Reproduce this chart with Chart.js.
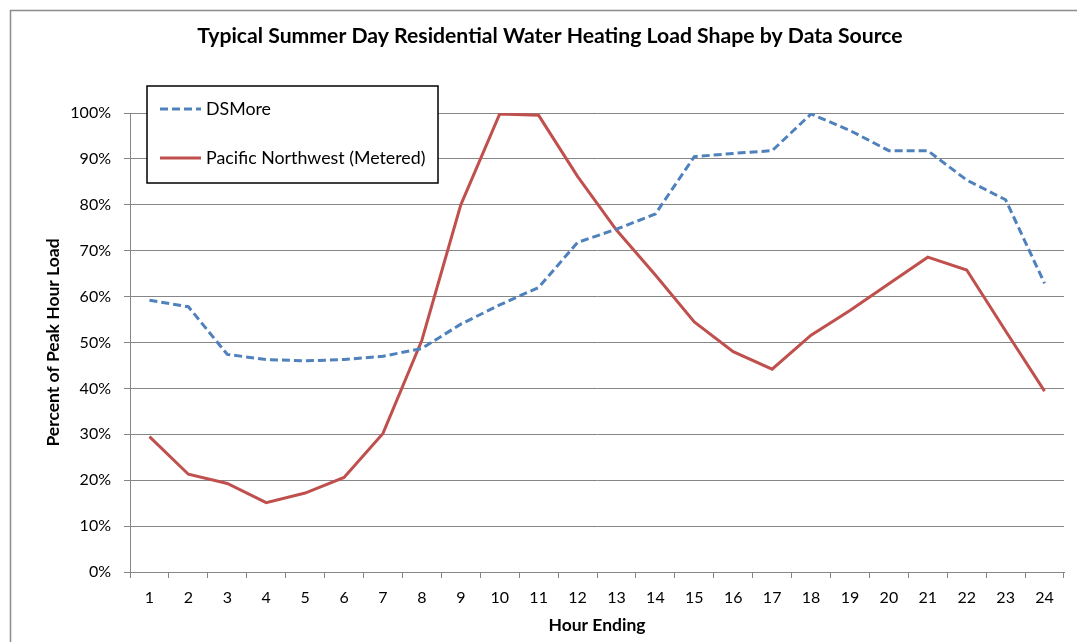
<!DOCTYPE html>
<html lang="en">
<head>
    <meta charset="UTF-8">
    <title>Water Heating Load Shape</title>
    <script src="https://cdn.jsdelivr.net/npm/chart.js"></script>
    <style>
        body { margin: 0; background: #fff; }
    </style>
</head>
<body>
    <canvas id="grafico_carga" width="1077" height="642"></canvas>

<script>
    // hour ending 1..24
    const horas = ['1', '2', '3', '4', '5', '6', '7', '8', '9', '10', '11', '12',
                   '13', '14', '15', '16', '17', '18', '19', '20', '21', '22', '23', '24'];

    // percent of peak hour load
    const dsmore = [59.2, 57.8, 47.4, 46.3, 46.0, 46.3, 47.0, 48.7, 54.0, 58.2, 62.0, 71.8,
                    74.7, 78.0, 90.5, 91.2, 91.8, 99.8, 96.2, 91.8, 91.8, 85.4, 81.1, 62.9];
    const pacificNW = [29.5, 21.3, 19.3, 15.1, 17.2, 20.6, 30.2, 50.5, 80.0, 99.8, 99.5, 86.2,
                       74.5, 64.7, 54.5, 48.0, 44.2, 51.6, 57.0, 62.8, 68.6, 65.8, 52.5, 39.4];

    const eixoY = [0, 10, 20, 30, 40, 50, 60, 70, 80, 90, 100];

    const FONTE = 'Lato, "Open Sans", sans-serif';
    const CINZA = '#868686';

    // outer frame of the chart
    const moldura = {
        id: 'moldura',
        beforeDraw(chart) {
            const ctx = chart.ctx;
            ctx.save();
            ctx.strokeStyle = '#8c8c8c';
            ctx.lineWidth = 1.5;
            ctx.strokeRect(10.5, 10.5, 1200, 800);
            ctx.restore();
        }
    };

    // legend box drawn inside the plot, like the original
    const legendaCaixa = {
        id: 'legendaCaixa',
        afterDraw(chart) {
            const ctx = chart.ctx;
            const x = 147, y = 86, w = 291, h = 97;
            ctx.save();
            ctx.fillStyle = '#fff';
            ctx.fillRect(x, y, w, h);
            ctx.strokeStyle = '#000';
            ctx.lineWidth = 1.5;
            ctx.strokeRect(x, y, w, h);

            const itens = [
                { texto: 'DSMore', cor: '#4F81BD', dash: [8, 4], ly: 109 },
                { texto: 'Pacific Northwest (Metered)', cor: '#C0504D', dash: [], ly: 158 }
            ];
            itens.forEach(item => {
                ctx.beginPath();
                ctx.setLineDash(item.dash);
                ctx.strokeStyle = item.cor;
                ctx.lineWidth = 3;
                ctx.moveTo(160, item.ly);
                ctx.lineTo(201, item.ly);
                ctx.stroke();
                ctx.setLineDash([]);
                ctx.fillStyle = '#000';
                ctx.font = '17.8px ' + FONTE;
                ctx.textBaseline = 'middle';
                ctx.textAlign = 'left';
                ctx.fillText(item.texto, 206, item.ly);
            });
            ctx.restore();
        }
    };

    const dados = {
        labels: horas,
        datasets: [{
            label: 'DSMore',
            data: dsmore,
            borderColor: '#4F81BD',
            backgroundColor: '#4F81BD',
            borderWidth: 3,
            borderDash: [8, 4],
            pointRadius: 0,
            tension: 0
        }, {
            label: 'Pacific Northwest (Metered)',
            data: pacificNW,
            borderColor: '#C0504D',
            backgroundColor: '#C0504D',
            borderWidth: 3,
            pointRadius: 0,
            tension: 0
        }]
    };

    const config = {
        type: 'line',
        data: dados,
        options: {
            responsive: false,
            animation: false,
            layout: { padding: { left: 36, right: 13, top: 0, bottom: 0 } },
            plugins: {
                legend: { display: false },
                tooltip: { enabled: false },
                title: {
                    display: true,
                    text: 'Typical Summer Day Residential Water Heating Load Shape by Data Source',
                    color: '#000',
                    font: { family: FONTE, size: 21.2, weight: 'bold', lineHeight: 1.2 },
                    padding: { top: 23, bottom: 64.6 }
                }
            },
            scales: {
                x: {
                    offset: true,
                    grid: {
                        offset: true,
                        drawOnChartArea: false,
                        drawTicks: true,
                        tickLength: 6,
                        color: CINZA
                    },
                    border: { color: CINZA, width: 1 },
                    ticks: {
                        color: '#000',
                        padding: 10,
                        maxRotation: 0,
                        autoSkip: false,
                        font: { family: FONTE, size: 16 }
                    },
                    title: {
                        display: true,
                        text: 'Hour Ending',
                        color: '#000',
                        font: { family: FONTE, size: 17.5, weight: 'bold', lineHeight: 1.2 },
                        padding: { top: 2, bottom: 6.5 }
                    },
                    afterFit(scale) { scale.height = 70; }
                },
                y: {
                    min: 0,
                    max: 100,
                    afterBuildTicks(scale) {
                        scale.ticks = eixoY.map(v => ({ value: v }));
                    },
                    grid: {
                        color: CINZA,
                        lineWidth: 1,
                        tickLength: 6
                    },
                    border: { color: CINZA, width: 1 },
                    ticks: {
                        color: '#000',
                        padding: 13,
                        font: { family: FONTE, size: 16 },
                        callback: v => v + '%'
                    },
                    title: {
                        display: true,
                        text: 'Percent of Peak Hour Load',
                        color: '#000',
                        font: { family: FONTE, size: 17.5, weight: 'bold', lineHeight: 1.2 },
                        padding: { top: 6.5, bottom: 4 }
                    },
                    afterFit(scale) { scale.width = 94; }
                }
            }
        },
        plugins: [moldura, legendaCaixa]
    };

    var graficoCarga = new Chart(document.getElementById('grafico_carga'), config);
</script>
</body>
</html>
